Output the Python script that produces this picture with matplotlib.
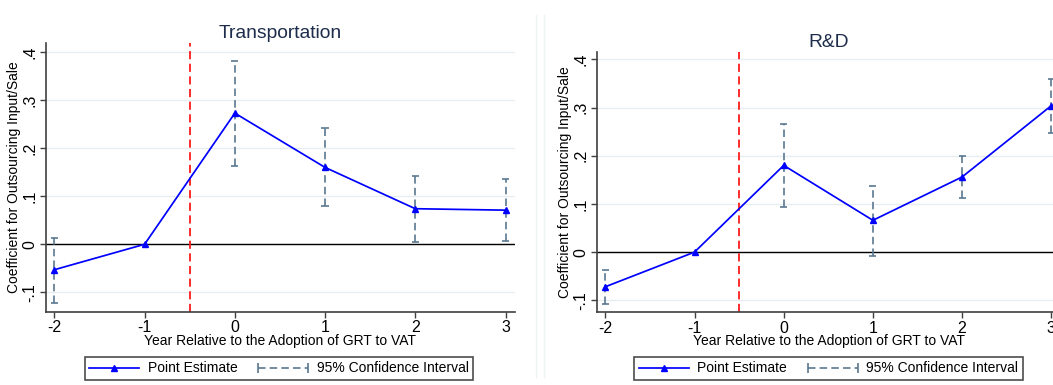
import matplotlib
matplotlib.use("Agg")
import matplotlib.pyplot as plt
from matplotlib.lines import Line2D
from matplotlib.legend_handler import HandlerLine2D

plt.rcParams["font.family"] = ["Liberation Sans", "DejaVu Sans"]

years = [-2, -1, 0, 1, 2, 3]
ytick_vals = [-0.1, 0, 0.1, 0.2, 0.3, 0.4]
ytick_labels = ["-.1", "0", ".1", ".2", ".3", ".4"]

# Transportation
trans_est = [-0.053, 0.0, 0.273, 0.160, 0.074, 0.071]
trans_lo = [-0.122, None, 0.163, 0.080, 0.004, 0.006]
trans_hi = [0.014, None, 0.382, 0.242, 0.143, 0.136]

# R&D
rd_est = [-0.072, 0.0, 0.180, 0.066, 0.156, 0.304]
rd_lo = [-0.108, None, 0.093, -0.008, 0.112, 0.248]
rd_hi = [-0.038, None, 0.266, 0.138, 0.199, 0.360]

BLUE = "#0000ff"
CI_COL = "#5a7890"
GRID = "#e6eef0"
TITLE_COL = "#1e2d4b"
SPINE = "#404040"
W, H = 1053, 385

fig = plt.figure(figsize=(W / 100, H / 100), dpi=100)

panels = [
    ("Transportation", trans_est, trans_lo, trans_hi,
     [0.0434, 0.1896, 0.4457, 0.6987], (-0.141, 0.419), 279.0),
    ("R&D", rd_est, rd_lo, rd_hi,
     [0.5667, 0.1888, 0.4406, 0.6769], (-0.125, 0.416), 828.4),
]

for title, est, lo, hi, rect, ylim, leg_x in panels:
    ax = fig.add_axes(rect)
    ax.set_xlim(-2.096, 3.105)
    ax.set_ylim(*ylim)
    for y in ytick_vals:
        ax.axhline(y, color=GRID, lw=1.0, zorder=0)
    ax.axhline(0, color="black", lw=1.0, zorder=1)
    ax.axvline(-0.5, color="#ff1a1a", lw=1.3, ls=(0, (4.5, 2.5)), zorder=2)

    ci_x = [x for x, l in zip(years, lo) if l is not None]
    ci_l = [l for l in lo if l is not None]
    ci_h = [h for h in hi if h is not None]
    ax.vlines(ci_x, ci_l, ci_h, colors=CI_COL, lw=1.2,
              linestyles=(0, (4.5, 2.5)), zorder=3)
    ax.hlines(ci_l + ci_h, [x - 0.04 for x in ci_x] * 2, [x + 0.04 for x in ci_x] * 2,
              colors=CI_COL, lw=1.2, zorder=3)

    ax.plot(years, est, color=BLUE, lw=1.25, marker="^", ms=5,
            markerfacecolor=BLUE, markeredgecolor=BLUE, zorder=4, clip_on=False)

    ax.set_title(title, fontsize=13.9, color=TITLE_COL, pad=3.5)
    ax.set_xticks(years)
    ax.set_xticklabels([str(y) for y in years], fontsize=11.5)
    ax.set_yticks(ytick_vals)
    ax.set_yticklabels(ytick_labels, fontsize=11.5, rotation=90, va="center")
    ax.set_xlabel("Year Relative to the Adoption of GRT to VAT", fontsize=10,
                  labelpad=-1)
    ax.set_ylabel("Coefficient for Outsourcing Input/Sale", fontsize=10,
                  labelpad=1)
    for side in ("top", "right"):
        ax.spines[side].set_visible(False)
    for side in ("left", "bottom"):
        ax.spines[side].set_color(SPINE)
        ax.spines[side].set_linewidth(1.2)
    ax.tick_params(direction="out", length=4, width=1, color=SPINE, pad=2)

    pe = Line2D([], [], color=BLUE, lw=1.25, marker="^", ms=5)
    ci = Line2D([], [], color=CI_COL, lw=1.2, ls=(0, (4.5, 2.5)),
                marker="|", ms=7, markeredgewidth=1.2)
    leg = fig.legend([pe, ci], ["Point Estimate", "95% Confidence Interval"],
                     loc="center", bbox_to_anchor=(leg_x / W, 16.5 / H), ncol=2,
                     fontsize=10, frameon=True, fancybox=False,
                     handlelength=3.6, columnspacing=1.5, handletextpad=0.6,
                     borderpad=0.35, borderaxespad=0,
                     handler_map={pe: HandlerLine2D(numpoints=1),
                                  ci: HandlerLine2D(numpoints=2, marker_pad=0)})
    leg.get_frame().set_edgecolor("#202020")
    leg.get_frame().set_linewidth(1.2)

# faint panel borders
for xf in (535.7 / W, 544.3 / W):
    fig.add_artist(Line2D([xf, xf], [0.02, 0.96], transform=fig.transFigure,
                          color="#eef3f4", lw=1))

fig.savefig("out.png", dpi=100)
